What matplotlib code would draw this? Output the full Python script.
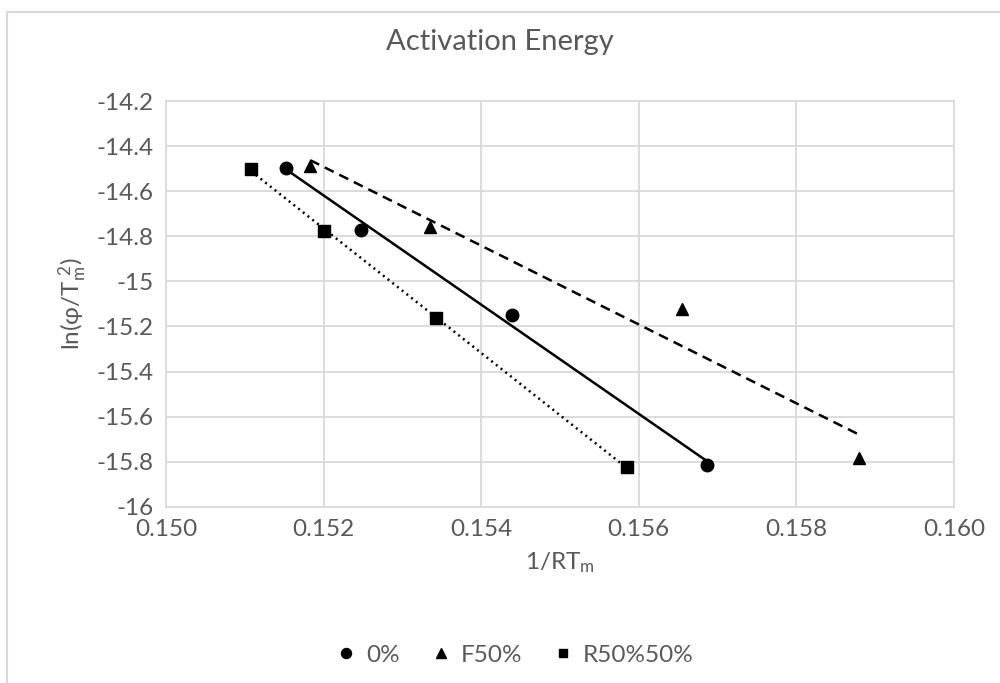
import numpy as np
import matplotlib
matplotlib.use('Agg')
import matplotlib.pyplot as plt
from matplotlib.patches import Rectangle

plt.rcParams['font.family'] = ['Lato', 'DejaVu Sans']

# values
x_0 = [0.15152, 0.15248, 0.15439, 0.15686]
y_0 = [-14.496, -14.770, -15.149, -15.816]

x_f50 = [0.15183, 0.15335, 0.15655, 0.15880]
y_f50 = [-14.490, -14.760, -15.123, -15.785]

x_r50 = [0.15108, 0.15200, 0.15343, 0.15585]
y_r50 = [-14.500, -14.778, -15.162, -15.825]

labels = ['0%', 'F50%', 'R50%50%']

TXT = '#595959'
GRID = '#d9d9d9'

fig = plt.figure(figsize=(10, 6.83), dpi=100)
fig.add_artist(Rectangle((0.007, -0.1), 1.1, 1.1 - 0.018, transform=fig.transFigure,
                         fill=False, edgecolor=GRID, linewidth=1.5))
ax = fig.add_axes([0.166, 0.258, 0.788, 0.594])

series = [(x_0, y_0, 'o', 9, '-', labels[0]),
          (x_f50, y_f50, '^', 9, (0, (4, 2.5)), labels[1]),
          (x_r50, y_r50, 's', 8, (0, (0.8, 1.6)), labels[2])]

for xs, ys, mk, ms, ls, lab in series:
    ax.plot(xs, ys, linestyle='none', marker=mk, markersize=ms, color='black', label=lab, zorder=3)
    # linear trendline over the data range
    k, b = np.polyfit(xs, ys, 1)
    xx = np.array([min(xs), max(xs)])
    ax.plot(xx, k * xx + b, color='black', linewidth=1.8, linestyle=ls, zorder=2)

ax.set_xlim(0.150, 0.160)
ax.set_ylim(-16, -14.2)
ax.set_xticks(np.arange(0.150, 0.1601, 0.002))
ax.set_xticklabels(['%.3f' % v for v in np.arange(0.150, 0.1601, 0.002)])
yt = np.arange(-16, -14.19, 0.2)
ax.set_yticks(yt)
ax.set_yticklabels(['%g' % round(v, 1) for v in yt])

ax.grid(True, color=GRID, linewidth=1.3)
ax.set_axisbelow(True)
for s in ax.spines.values():
    s.set_color(GRID)
    s.set_linewidth(1.3)
ax.tick_params(length=0, labelsize=17.5, labelcolor=TXT, pad=9)

ax.set_xlabel(r'1/RT$\mathregular{_m}$', fontsize=17.5, color=TXT, labelpad=7)
ax.set_ylabel(r'ln(φ/T$\mathregular{_m^{\ 2}}$)', fontsize=17.5, color=TXT, labelpad=5)

fig.text(0.5, 1 - 42 / 683, 'Activation Energy', ha='center', va='center', fontsize=21, color=TXT)

fig.legend(loc='center', bbox_to_anchor=(0.515, 1 - 655 / 683), ncol=3, frameon=False,
           fontsize=17.5, labelcolor=TXT, handlelength=0.8, handletextpad=0.4,
           columnspacing=1.3, markerscale=0.8)

fig.savefig('out.png', dpi=100)
